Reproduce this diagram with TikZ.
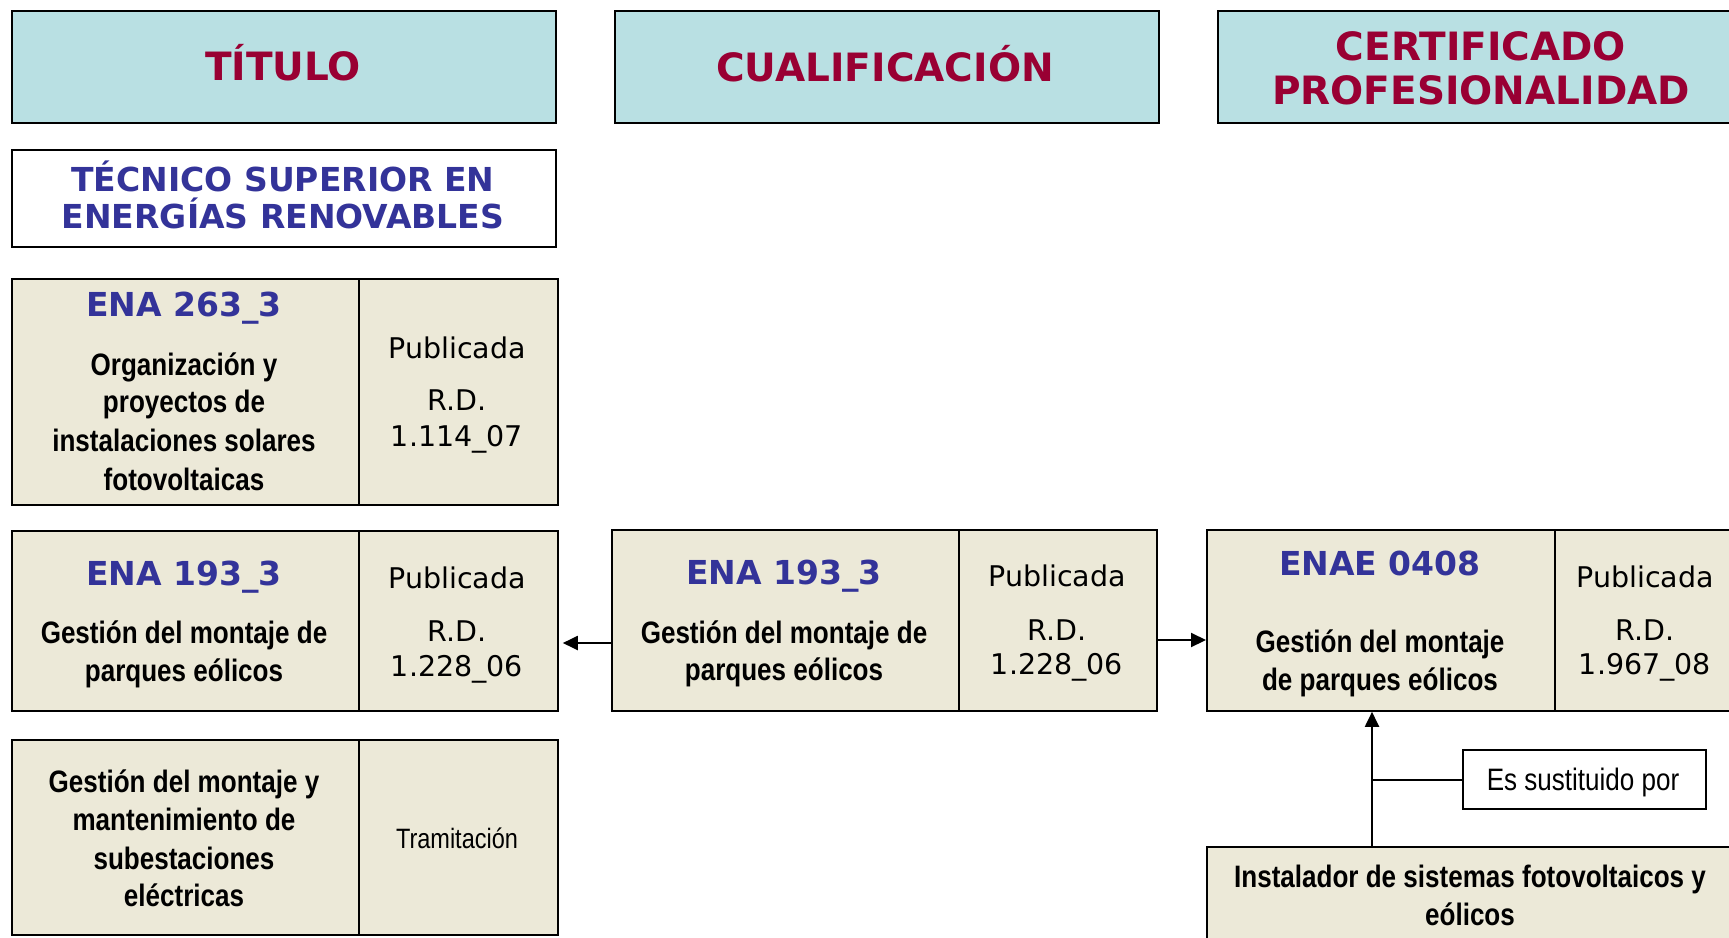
\documentclass[tikz,border=0pt]{standalone}
\usepackage{fontspec}
\setmainfont{DejaVu Sans}
\newfontfamily\narrowfont{Liberation Sans}[FakeStretch=0.84]
\usetikzlibrary{arrows.meta}
\definecolor{hdfill}{HTML}{B9E0E3}
\definecolor{hdred}{HTML}{990033}
\definecolor{codeblue}{HTML}{333399}
\definecolor{beige}{HTML}{ECE9D8}
\begin{document}
\begin{tikzpicture}[x=1pt,y=-1pt,
  box/.style={draw=black, line width=1.8pt, inner sep=0pt, anchor=north west},
  hdbox/.style={box, fill=hdfill, line width=2.2pt},
  cell/.style={box, fill=beige},
  wbox/.style={box, fill=white},
  hd/.style={font=\fontsize{39}{44}\selectfont\bfseries, text=hdred, anchor=base, inner sep=0pt},
  cd/.style={font=\fontsize{33}{38}\selectfont\bfseries, text=codeblue, anchor=base, inner sep=0pt},
  nb/.style={font=\narrowfont\bfseries\fontsize{31}{36}\selectfont, anchor=base, inner sep=0pt},
  pub/.style={font=\fontsize{28.5}{33}\selectfont, anchor=base, inner sep=0pt},
  nr/.style={font=\narrowfont\fontsize{28}{33}\selectfont, anchor=base, inner sep=0pt},
  nrl/.style={font=\narrowfont\fontsize{31}{36}\selectfont, anchor=base, inner sep=0pt},
  arr/.style={line width=2pt, -{Triangle[length=15pt,width=14pt]}},
  ln/.style={line width=2pt}
]
\fill[white] (0,0) rectangle (1729,937);
\clip (0,0) rectangle (1729,937);
\useasboundingbox (0,0) rectangle (1729,937);

% headers
\node[hdbox, minimum width=544pt, minimum height=112pt] (hT) at (11,10) {};
\node[hdbox, minimum width=544pt, minimum height=112pt] (hC) at (614,10) {};
\node[hdbox, minimum width=544pt, minimum height=112pt] (hP) at (1217,10) {};
\node[hd] (tT) at (283,80) {TÍTULO};
\node[hd] (tC) at (885,81) {CUALIFICACIÓN};
\node[hd] (tP1) at (1481,60) {CERTIFICADO};
\node[hd] (tP2) at (1481,104) {PROFESIONALIDAD};

% titulo box
\node[wbox, minimum width=544pt, minimum height=97pt] (tec) at (11,149) {};
\node[cd] (tec1) at (283,191) {TÉCNICO SUPERIOR EN};
\node[cd] (tec2) at (283,228) {ENERGÍAS RENOVABLES};

% ENA 263_3
\node[cell, minimum width=347pt, minimum height=226pt] (a1) at (11,278) {};
\node[cell, minimum width=199pt, minimum height=226pt] (a1r) at (358,278) {};
\node[cd] (a1c) at (184,316) {ENA 263\_3};
\node[nb] (a1t1) at (184,375) {Organización y};
\node[nb] (a1t2) at (184,412) {proyectos de};
\node[nb] (a1t3) at (184,451) {instalaciones solares};
\node[nb] (a1t4) at (184,490) {fotovoltaicas};
\node[pub] (a1p1) at (457,358) {Publicada};
\node[pub] (a1p2) at (457,410) {R.D.};
\node[pub] (a1p3) at (457,446) {1.114\_07};

% ENA 193_3 left
\node[cell, minimum width=347pt, minimum height=180pt] (b1) at (11,530) {};
\node[cell, minimum width=199pt, minimum height=180pt] (b1r) at (358,530) {};
\node[cd] (b1c) at (184,585) {ENA 193\_3};
\node[nb] (b1t1) at (184,643) {Gestión del montaje de};
\node[nb] (b1t2) at (184,681) {parques eólicos};
\node[pub] (b1p1) at (457,588) {Publicada};
\node[pub] (b1p2) at (457,641) {R.D.};
\node[pub] (b1p3) at (457,676) {1.228\_06};

% bottom left
\node[cell, minimum width=347pt, minimum height=195pt] (c1) at (11,739) {};
\node[cell, minimum width=199pt, minimum height=195pt] (c1r) at (358,739) {};
\node[nb] (c1t1) at (184,792) {Gestión del montaje y};
\node[nb] (c1t2) at (184,830) {mantenimiento de};
\node[nb] (c1t3) at (184,869) {subestaciones};
\node[nb] (c1t4) at (184,906) {eléctricas};
\node[nr] (c1p) at (457,848) {Tramitación};

% middle
\node[cell, minimum width=347pt, minimum height=181pt] (m) at (611,529) {};
\node[cell, minimum width=198pt, minimum height=181pt] (mr) at (958,529) {};
\node[cd] (mc) at (784,584) {ENA 193\_3};
\node[nb] (mt1) at (784,643) {Gestión del montaje de};
\node[nb] (mt2) at (784,680) {parques eólicos};
\node[pub] (mp1) at (1057,586) {Publicada};
\node[pub] (mp2) at (1057,640) {R.D.};
\node[pub] (mp3) at (1057,674) {1.228\_06};

% ENAE
\node[cell, minimum width=348pt, minimum height=181pt] (e) at (1206,529) {};
\node[cell, minimum width=190pt, minimum height=181pt] (er) at (1554,529) {};
\node[cd] (ec) at (1380,575) {ENAE 0408};
\node[nb] (et1) at (1380,652) {Gestión del montaje};
\node[nb] (et2) at (1380,690) {de parques eólicos};
\node[pub] (ep1) at (1645,587) {Publicada};
\node[pub] (ep2) at (1645,640) {R.D.};
\node[pub] (ep3) at (1645,674) {1.967\_08};

% sustituido
\node[wbox, minimum width=243pt, minimum height=59pt] (sust) at (1462,749) {};
\node[nrl] (sustt) at (1583,790) {Es sustituido por};

% instalador
\node[cell, minimum width=528pt, minimum height=120pt] (inst) at (1206,846) {};
\node[nb] (it1) at (1470,887) {Instalador de sistemas fotovoltaicos y};
\node[nb] (it2) at (1470,925) {eólicos};

% connectors
\draw[arr, shorten >=4pt] (m.west |- 0,643) -- (b1r.east |- 0,643);
\draw[arr] (mr.east |- 0,640) -- (e.west |- 0,640);
\coordinate (jn) at (1372,780);
\draw[arr] (inst.north -| jn) -- (e.south -| jn);
\draw[ln] (jn) -- (sust.west |- jn);
\end{tikzpicture}
\end{document}
